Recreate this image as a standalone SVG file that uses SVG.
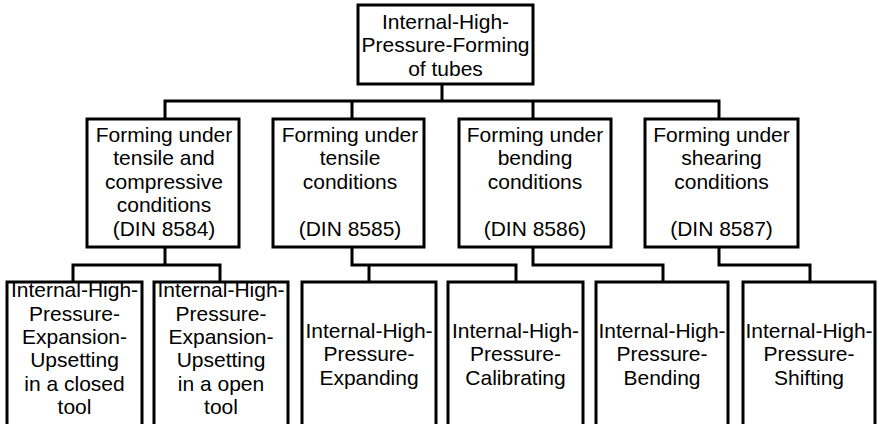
<svg xmlns="http://www.w3.org/2000/svg" width="879" height="424" viewBox="0 0 879 424">
  <style>
    .box { fill: #ffffff; stroke: #000000; stroke-width: 3; }
    .lbl { font-family: "Liberation Sans", Arial, sans-serif; font-size: 21px; fill: #000000; text-anchor: middle; }
    .wire { fill: none; stroke: #000000; stroke-width: 3; stroke-linejoin: miter; stroke-linecap: square; }
  </style>
  <rect width="879" height="424" fill="#ffffff"/>

  <!-- connectors -->
  <g id="connectors">
    <path class="wire" d="M442,84 V101 M165,101 H719 M165,101 V119 M352,101 V119 M533,101 V119 M719,101 V119"/>
    <path class="wire" d="M165,247 V265 M73,265 H220 M73,265 V282 M220,265 V282"/>
    <path class="wire" d="M352,247 V265 M352,265 H516 M369,265 V282 M516,265 V282"/>
    <path class="wire" d="M533,247 V265 H663 V282"/>
    <path class="wire" d="M719,247 V265 H810 V282"/>
  </g>

  <!-- root -->
  <g id="root">
    <rect class="box" x="358" y="5" width="175" height="79"/>
    <text class="lbl" x="445.5" y="28.5">Internal-High-</text>
    <text class="lbl" x="445.5" y="52">Pressure-Forming</text>
    <text class="lbl" x="445.5" y="75.5">of tubes</text>
  </g>

  <!-- second level -->
  <g id="din8584">
    <rect class="box" x="87" y="119" width="152" height="128"/>
    <text class="lbl" x="164" y="141.5">Forming under</text>
    <text class="lbl" x="164" y="165">tensile and</text>
    <text class="lbl" x="164" y="188.5">compressive</text>
    <text class="lbl" x="164" y="212">conditions</text>
    <text class="lbl" x="164" y="235.5">(DIN 8584)</text>
  </g>
  <g id="din8585">
    <rect class="box" x="273" y="119" width="151" height="128"/>
    <text class="lbl" x="350" y="141.5">Forming under</text>
    <text class="lbl" x="350" y="165">tensile</text>
    <text class="lbl" x="350" y="188.5">conditions</text>
    <text class="lbl" x="350" y="235.5">(DIN 8585)</text>
  </g>
  <g id="din8586">
    <rect class="box" x="459" y="119" width="152" height="128"/>
    <text class="lbl" x="535" y="141.5">Forming under</text>
    <text class="lbl" x="535" y="165">bending</text>
    <text class="lbl" x="535" y="188.5">conditions</text>
    <text class="lbl" x="535" y="235.5">(DIN 8586)</text>
  </g>
  <g id="din8587">
    <rect class="box" x="645" y="119" width="153" height="128"/>
    <text class="lbl" x="721.5" y="141.5">Forming under</text>
    <text class="lbl" x="721.5" y="165">shearing</text>
    <text class="lbl" x="721.5" y="188.5">conditions</text>
    <text class="lbl" x="721.5" y="235.5">(DIN 8587)</text>
  </g>

  <!-- third level (boxes run past the lower edge) -->
  <g id="upsetting-closed">
    <rect class="box" x="7" y="282" width="135" height="160"/>
    <text class="lbl" x="74.5" y="297">Internal-High-</text>
    <text class="lbl" x="74.5" y="320.5">Pressure-</text>
    <text class="lbl" x="74.5" y="344">Expansion-</text>
    <text class="lbl" x="74.5" y="367">Upsetting</text>
    <text class="lbl" x="74.5" y="390.5">in a closed</text>
    <text class="lbl" x="74.5" y="414">tool</text>
  </g>
  <g id="upsetting-open">
    <rect class="box" x="154" y="282" width="134" height="160"/>
    <text class="lbl" x="221" y="297">Internal-High-</text>
    <text class="lbl" x="221" y="320.5">Pressure-</text>
    <text class="lbl" x="221" y="344">Expansion-</text>
    <text class="lbl" x="221" y="367">Upsetting</text>
    <text class="lbl" x="221" y="390.5">in a open</text>
    <text class="lbl" x="221" y="414">tool</text>
  </g>
  <g id="expanding">
    <rect class="box" x="302" y="282" width="134" height="160"/>
    <text class="lbl" x="369" y="338">Internal-High-</text>
    <text class="lbl" x="369" y="361">Pressure-</text>
    <text class="lbl" x="369" y="384.5">Expanding</text>
  </g>
  <g id="calibrating">
    <rect class="box" x="448" y="282" width="135" height="160"/>
    <text class="lbl" x="515.5" y="338">Internal-High-</text>
    <text class="lbl" x="515.5" y="361">Pressure-</text>
    <text class="lbl" x="515.5" y="384.5">Calibrating</text>
  </g>
  <g id="bending">
    <rect class="box" x="596" y="282" width="132" height="160"/>
    <text class="lbl" x="662" y="338">Internal-High-</text>
    <text class="lbl" x="662" y="361">Pressure-</text>
    <text class="lbl" x="662" y="384.5">Bending</text>
  </g>
  <g id="shifting">
    <rect class="box" x="743" y="282" width="132" height="160"/>
    <text class="lbl" x="809" y="338">Internal-High-</text>
    <text class="lbl" x="809" y="361">Pressure-</text>
    <text class="lbl" x="809" y="384.5">Shifting</text>
  </g>
</svg>
